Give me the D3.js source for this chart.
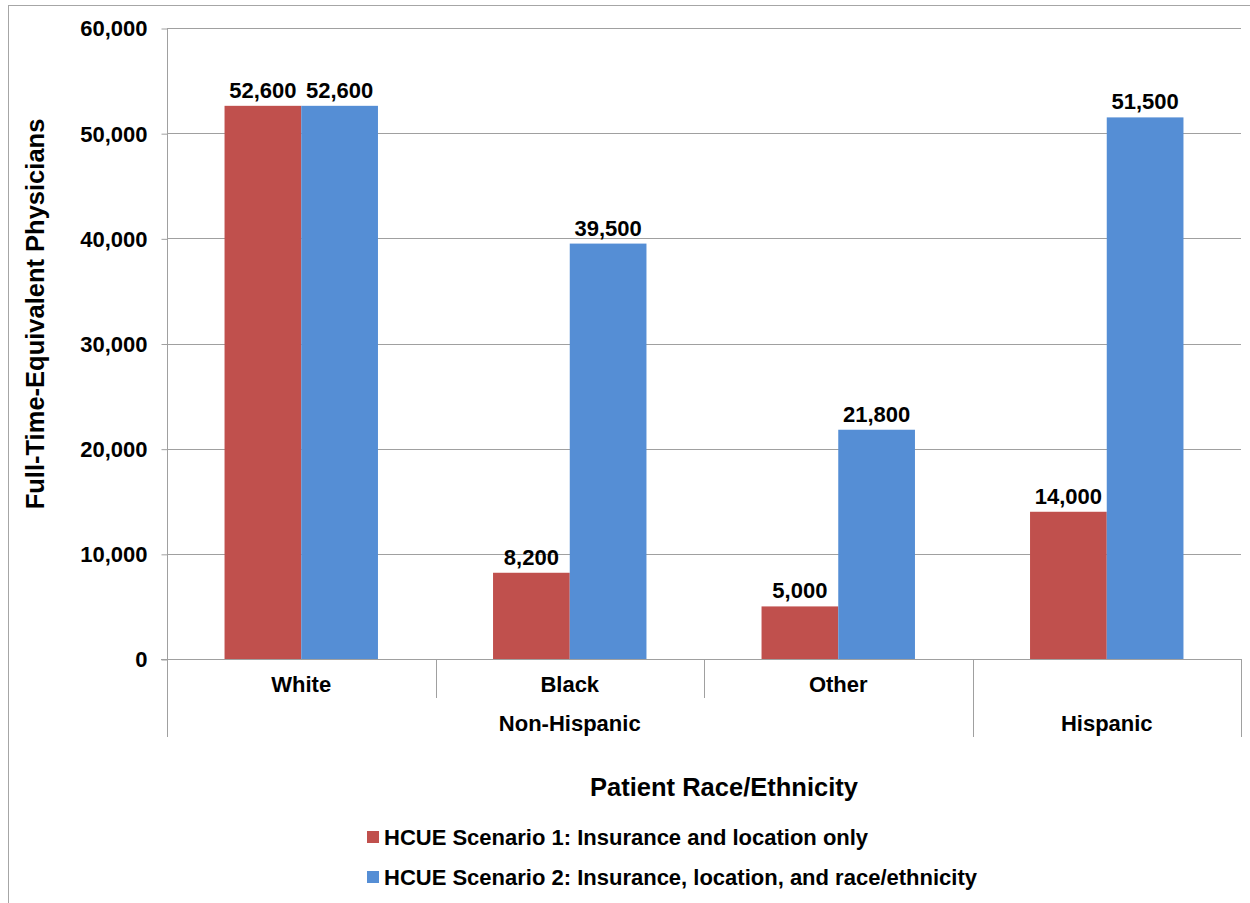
<!DOCTYPE html>
<html>
<head>
<meta charset="utf-8">
<script src="https://cdn.jsdelivr.net/npm/d3@7"></script>
<style>
  html, body { margin: 0; padding: 0; background: #fff; }
  svg { display: block; }
  text { font-family: "Liberation Sans", Arial, sans-serif; font-weight: bold; fill: #000; }
</style>
</head>
<body>
<svg id="chart" width="1250" height="903"></svg>
<script>
const categories = ["White", "Black", "Other", "Hispanic"];
const categoryLabels = ["White", "Black", "Other", ""];
const groups = ["Non-Hispanic", "Non-Hispanic", "Non-Hispanic", "Hispanic"];
const seriesNames = [
  "HCUE Scenario 1: Insurance and location only",
  "HCUE Scenario 2: Insurance, location, and race/ethnicity"
];
const scenario1 = [52600, 8200, 5000, 14000];
const scenario2 = [52600, 39500, 21800, 51500];
const yTicks = [0, 10000, 20000, 30000, 40000, 50000, 60000];
const yTitle = "Full-Time-Equivalent Physicians";
const xTitle = "Patient Race/Ethnicity";
const colors = ["#C0504D", "#558ED5"];

const svg = d3.select("#chart");
const W = 1250, H = 903;
const plot = { left: 167, right: 1241, top: 28, bottom: 659 };
const gridColor = "#A0A0A0";
const fs = 22;

// outer chart border
svg.append("rect")
  .attr("x", 8.5).attr("y", 5.5)
  .attr("width", W + 20).attr("height", H + 20)
  .attr("fill", "none").attr("stroke", "#A6A6A6").attr("stroke-width", 1);

const x0 = d3.scaleBand().domain(categories).range([plot.left, plot.right]).padding(0);
const bw = x0.bandwidth();
const x1 = d3.scaleBand().domain([0, 1])
  .range([bw * 0.75 / 3.5, bw * 2.75 / 3.5]).padding(0);
const y = d3.scaleLinear().domain([0, 60000]).range([plot.bottom, plot.top]);

// gridlines
svg.append("g").selectAll("line").data(yTicks.filter(d => d > 0)).join("line")
  .attr("x1", plot.left).attr("x2", plot.right)
  .attr("y1", d => Math.round(y(d)) + 0.5).attr("y2", d => Math.round(y(d)) + 0.5)
  .attr("stroke", gridColor).attr("stroke-width", 1);

// bars
const series = [scenario1, scenario2];
const barData = [];
categories.forEach((c, i) => series.forEach((s, j) => barData.push({ cat: c, s: j, v: s[i] })));

svg.append("g").selectAll("rect").data(barData).join("rect")
  .attr("x", d => x0(d.cat) + x1(d.s))
  .attr("width", x1.bandwidth())
  .attr("y", d => y(d.v))
  .attr("height", d => y(0) - y(d.v))
  .attr("fill", d => colors[d.s]);

// value labels
svg.append("g").selectAll("text").data(barData).join("text")
  .attr("x", d => x0(d.cat) + x1(d.s) + x1.bandwidth() / 2)
  .attr("y", d => y(d.v) - 8)
  .attr("text-anchor", "middle")
  .attr("font-size", fs)
  .text(d => d3.format(",")(d.v));

// y axis
const yAxis = d3.axisLeft(y).tickValues(yTicks).tickFormat(d3.format(",")).tickSize(6).tickPadding(14);
const gy = svg.append("g").attr("transform", `translate(${plot.left + 0.5},0)`).call(yAxis);
gy.select(".domain").remove();
gy.selectAll(".tick line").attr("stroke", gridColor).attr("transform", "translate(0,0.5)");
gy.selectAll(".tick text").attr("font-size", fs).attr("font-family", "Liberation Sans, Arial, sans-serif")
  .attr("font-weight", "bold").attr("fill", "#000").attr("dy", "0.36em");

// axis lines
const level1 = 698, level2 = 737;
svg.append("line").attr("x1", plot.left + 0.5).attr("x2", plot.left + 0.5)
  .attr("y1", plot.top).attr("y2", level2).attr("stroke", gridColor);
svg.append("line").attr("x1", plot.left - 6).attr("x2", plot.right + 0.5)
  .attr("y1", plot.bottom + 0.5).attr("y2", plot.bottom + 0.5).attr("stroke", gridColor);

// category separators
const groupRuns = [];
groups.forEach((g, i) => {
  const last = groupRuns[groupRuns.length - 1];
  if (last && last.name === g) last.end = i; else groupRuns.push({ name: g, start: i, end: i });
});
const groupBoundaries = new Set(groupRuns.map(r => r.end));
categories.forEach((c, i) => {
  const xr = Math.round(x0(c) + bw) + 0.5;
  svg.append("line").attr("x1", xr).attr("x2", xr)
    .attr("y1", plot.bottom).attr("y2", groupBoundaries.has(i) ? level2 : level1)
    .attr("stroke", gridColor);
});

// category labels
svg.append("g").selectAll("text").data(categories).join("text")
  .attr("x", d => x0(d) + bw / 2)
  .attr("y", 692)
  .attr("text-anchor", "middle").attr("font-size", fs)
  .text((d, i) => categoryLabels[i]);

// group labels
svg.append("g").selectAll("text").data(groupRuns).join("text")
  .attr("x", r => (x0(categories[r.start]) + x0(categories[r.end]) + bw) / 2)
  .attr("y", 731)
  .attr("text-anchor", "middle").attr("font-size", fs)
  .text(r => r.name);

// titles
svg.append("text")
  .attr("x", 724).attr("y", 796)
  .attr("text-anchor", "middle").attr("font-size", 25.5)
  .text(xTitle);

svg.append("text")
  .attr("transform", `translate(44,314) rotate(-90)`)
  .attr("text-anchor", "middle").attr("font-size", 25.5)
  .text(yTitle);

// legend
const legend = svg.append("g");
seriesNames.forEach((name, i) => {
  const yy = 837 + i * 40;
  legend.append("rect").attr("x", 367).attr("y", yy - 6).attr("width", 12).attr("height", 12).attr("fill", colors[i]);
  legend.append("text").attr("x", 384).attr("y", yy + 8).attr("font-size", fs).text(name);
});
</script>
</body>
</html>
